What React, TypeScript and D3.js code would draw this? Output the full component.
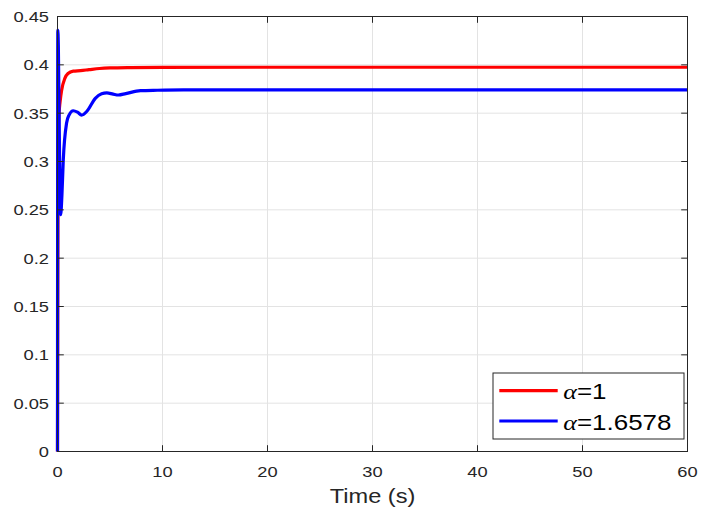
import React from "react";
import * as d3 from "d3";

const redT = [0, 0.05, 0.12, 0.25, 0.4, 0.7, 1.0, 1.5, 2.2, 3.0, 4.0, 5.0, 7.0, 10.0, 20.0, 60.0];
const redV = [0, 0.3, 0.345, 0.362, 0.374, 0.386, 0.391, 0.3935, 0.394, 0.395, 0.3962, 0.3968, 0.3972, 0.3974, 0.3975, 0.3975];

const blueT = [0, 0.03, 0.08, 0.2, 0.3, 0.42, 0.55, 0.87, 1.1, 1.5, 1.9, 2.3, 2.8, 3.6, 4.2, 4.7, 5.3, 5.8, 6.5, 7.9, 9.5, 12, 20, 60];
const blueV = [0, 0.436, 0.42, 0.3, 0.245, 0.265, 0.3015, 0.34, 0.348, 0.3525, 0.351, 0.348, 0.352, 0.3654, 0.37, 0.371, 0.3697, 0.3688, 0.3702, 0.3733, 0.3737, 0.374, 0.374, 0.374];

const xTicks = [0, 10, 20, 30, 40, 50, 60];
const yTicks = [0, 0.05, 0.1, 0.15, 0.2, 0.25, 0.3, 0.35, 0.4, 0.45];
const yTickLabels = ["0", "0.05", "0.1", "0.15", "0.2", "0.25", "0.3", "0.35", "0.4", "0.45"];
const seriesNames = ["1", "1.6578"];
const seriesColors = ["#ff0000", "#0000ff"];

const W = 710, H = 519;
const L = 57.5, R = 687.5, T = 16.5, B = 451.5;
const SX = 1.18;
const FONT = "'Liberation Sans', Arial, Helvetica, sans-serif";
const AX = "#262626";

export default function App() {
  const x = d3.scaleLinear().domain([0, 60]).range([L, R]);
  const y = d3.scaleLinear().domain([0, 0.45]).range([B, T]);
  const line = d3
    .line<[number, number]>()
    .x((d) => x(d[0]))
    .y((d) => y(d[1]))
    .curve(d3.curveMonotoneX);
  const red = line(redT.map((t, i) => [t, redV[i]]) as [number, number][]) || "";
  const blue = line(blueT.map((t, i) => [t, blueV[i]]) as [number, number][]) || "";
  const tl = 6.3;
  const lg = { x0: 493, x1: 684, y0: 373, y1: 439 };
  const rows = [390.7, 421];
  return (
    <svg width={W} height={H} style={{ position: "absolute", left: 0, top: 0, background: "#fff" }}>
      <rect x={0} y={0} width={W} height={H} fill="#fff" />
      <rect x={L} y={T} width={R - L} height={B - T} fill="#fff" />
      {xTicks.map((t) => (
        <line key={"gx" + t} x1={x(t)} x2={x(t)} y1={T} y2={B} stroke="#e3e3e3" strokeWidth={1} />
      ))}
      {yTicks.map((t) => (
        <line key={"gy" + t} x1={L} x2={R} y1={y(t)} y2={y(t)} stroke="#e3e3e3" strokeWidth={1} />
      ))}
      <path d={red} fill="none" stroke={seriesColors[0]} strokeWidth={3.2} strokeLinejoin="round" />
      <path d={blue} fill="none" stroke={seriesColors[1]} strokeWidth={3.2} strokeLinejoin="round" />
      <rect x={L} y={T} width={R - L} height={B - T} fill="none" stroke={AX} strokeWidth={1} />
      {xTicks.map((t) => (
        <g key={"tx" + t}>
          <line x1={x(t)} x2={x(t)} y1={B} y2={B - tl} stroke={AX} />
          <line x1={x(t)} x2={x(t)} y1={T} y2={T + tl} stroke={AX} />
          <text
            transform={`translate(${x(t)},477) scale(${SX},1)`}
            textAnchor="middle"
            fontFamily={FONT}
            fontSize={15.5}
            fill={AX}
          >
            {t}
          </text>
        </g>
      ))}
      {yTicks.map((t, i) => (
        <g key={"ty" + t}>
          <line x1={L} x2={L + tl} y1={y(t)} y2={y(t)} stroke={AX} />
          <line x1={R} x2={R - tl} y1={y(t)} y2={y(t)} stroke={AX} />
          <text
            transform={`translate(49,${y(t) + 5.6}) scale(${SX},1)`}
            textAnchor="end"
            fontFamily={FONT}
            fontSize={15.5}
            fill={AX}
          >
            {yTickLabels[i]}
          </text>
        </g>
      ))}
      <text
        transform={`translate(${(L + R) / 2},502.7) scale(${SX},1)`}
        textAnchor="middle"
        fontFamily={FONT}
        fontSize={20}
        fill={AX}
      >
        Time (s)
      </text>
      <rect x={lg.x0} y={lg.y0} width={lg.x1 - lg.x0} height={lg.y1 - lg.y0} fill="#fff" stroke={AX} strokeWidth={1} />
      {seriesNames.map((n, i) => (
        <g key={"lg" + n}>
          <line x1={499.3} x2={557.7} y1={rows[i]} y2={rows[i]} stroke={seriesColors[i]} strokeWidth={3.2} />
          <text
            transform={`translate(563.3,${rows[i] + 8.5}) scale(${SX},1)`}
            fontFamily={FONT}
            fontSize={22}
            fill="#000"
          >
            <tspan fontFamily="'Liberation Serif', 'Times New Roman', serif" fontStyle="italic">α</tspan>
            <tspan>=</tspan>
            <tspan>{n}</tspan>
          </text>
        </g>
      ))}
    </svg>
  );
}
